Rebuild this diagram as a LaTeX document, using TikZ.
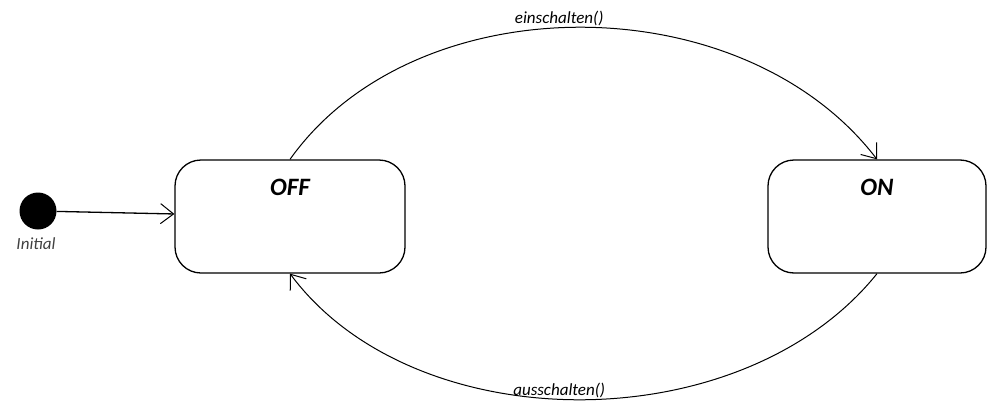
\documentclass[tikz,border=0pt]{standalone}
\usepackage{fontspec}
\setmainfont{Carlito}
\usetikzlibrary{arrows.meta,positioning}
\tikzset{
  state/.style={draw,line width=1.3pt,rounded corners=26pt,minimum height=113pt},
  trans/.style={line width=1pt,-{Straight Barb[length=13pt,width=20pt,line width=1pt]}},
  translabel/.style={font=\fontsize{17}{19}\selectfont\itshape,inner sep=1pt}
}
\begin{document}
\begin{tikzpicture}[x=1pt,y=-1pt]
  \useasboundingbox (0,0) rectangle (987,407);
  % Initial pseudo state
  \node[circle,fill,inner sep=0pt,minimum size=37pt] (init) at (38,211) {};
  \node[below=7pt of init,xshift=-2pt,translabel,text=black!75] (initlbl) {Initial};
  % States
  \foreach \name/\txt/\x/\w in {off/OFF/290/230,on/ON/877/218} {
    \node[state,minimum width=\w pt,label={[anchor=north,yshift=-16pt,font=\fontsize{25}{30}\selectfont\bfseries\itshape]north:\txt}] (\name) at (\x,216.5) {};
  }
  % Transitions
  \draw[line width=1.3pt,-{Straight Barb[length=13pt,width=20pt,line width=1pt]}] (init) -- (off);
  \draw[trans] (off.north) .. controls +(125,-176) and +(-135,-176) .. (on.north)
    node[pos=0.47,above,translabel] (einlbl) {einschalten()};
  \draw[trans] (on.south) .. controls +(-135,168) and +(125,168) .. (off.south)
    node[pos=0.53,above,translabel] (auslbl) {ausschalten()};
\end{tikzpicture}
\end{document}
